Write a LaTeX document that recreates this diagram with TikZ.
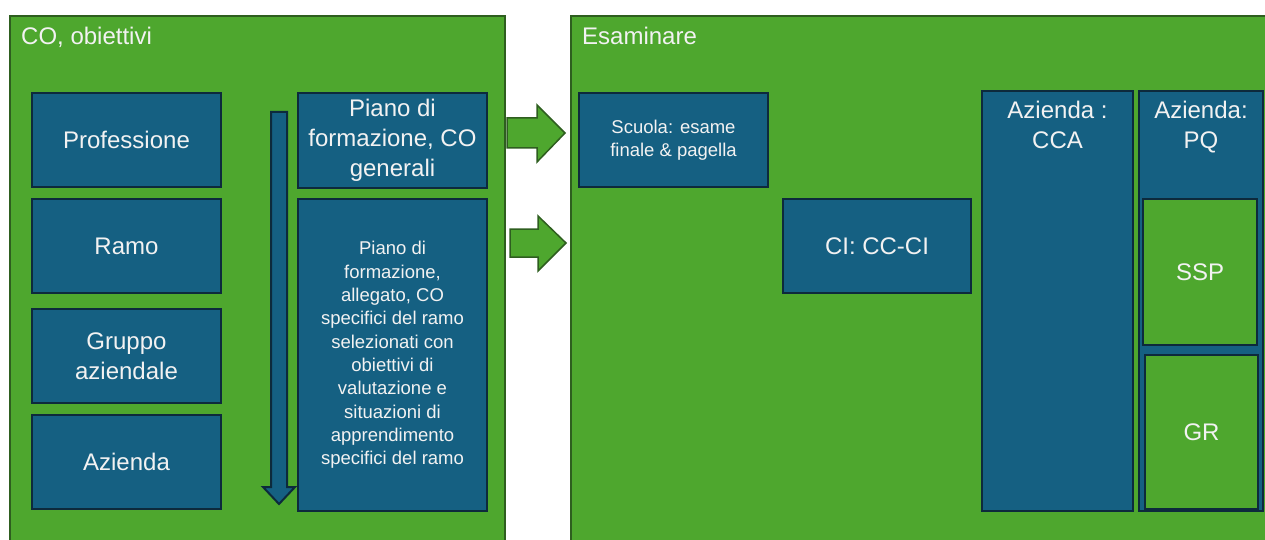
\documentclass[tikz,border=0pt]{standalone}
\usepackage{fontspec}
\setmainfont{Liberation Sans}
\usepackage{tikz}
\definecolor{grn}{HTML}{4EA72E}
\definecolor{grnline}{HTML}{2E5E1F}
\definecolor{blu}{HTML}{156082}
\definecolor{bluline}{HTML}{0D2A3C}
\definecolor{txt}{HTML}{F2F2F2}
\tikzset{
	bigbox/.style={fill=grn, draw=grnline, line width=1.5pt},
	blubox/.style={rectangle, fill=blu, draw=bluline, line width=2pt, text=txt, align=center, anchor=north west, inner sep=0pt},
	grnbox/.style={rectangle, fill=grn, draw=bluline, line width=2pt, text=txt, align=center, anchor=north west, inner sep=0pt},
	bigtxt/.style={font=\fontsize{24}{30}\selectfont},
	smalltxt/.style={font=\fontsize{18.5}{23.3}\selectfont},
	titletxt/.style={anchor=base west, text=txt, font=\fontsize{24}{28}\selectfont, inner sep=0pt},
	blockarrow/.style={fill=grn, draw=grnline, line width=1.5pt, line join=miter},
}

\begin{document}
\begin{tikzpicture}[x=1pt, y=-1pt]
			%%%%% START %%%%%
			\useasboundingbox[fill=white] (0,0) rectangle (1265,540);
			\clip (0,0) rectangle (1265,540);
			
			\draw[bigbox] (10,16) rectangle (505,560);
			\draw[bigbox] (571,16) rectangle (1275,560);
			\node[titletxt] (cotitle) at (21,45) {CO, obiettivi};
			\node[titletxt] (esatitle) at (582,45) {Esaminare};
			
			% left column
			\node[blubox, bigtxt, minimum width=189, minimum height=94] (prof) at (31,92) {Professione};
			\node[blubox, bigtxt, minimum width=189, minimum height=94] (ramo) at (31,198) {Ramo};
			\node[blubox, bigtxt, minimum width=189, minimum height=94] (gruppo) at (31,308) {Gruppo\\aziendale};
			\node[blubox, bigtxt, minimum width=189, minimum height=94] (azienda) at (31,414) {Azienda};
			
			\draw[fill=blu, draw=bluline, line width=2pt, line join=miter] (271,112) -- (287,112) -- (287,487) -- (295,487) -- (279,504) -- (263,487) -- (271,487) -- cycle;
			
			\node[blubox, bigtxt, minimum width=189, minimum height=95] (pianogen) at (297,92) {Piano di\\formazione, CO\\generali};
			\node[blubox, smalltxt, minimum width=189, minimum height=312] (pianospec) at (297,198) {Piano di\\formazione,\\allegato, CO\\specifici del ramo\\selezionati con\\obiettivi di\\valutazione e\\situazioni di\\apprendimento\\specifici del ramo};
			
			% block arrows
			\draw[blockarrow] (507,118) -- (537,118) -- (537,105) -- (565,133) -- (537,162) -- (537,148) -- (507,148) -- cycle;
			\draw[blockarrow] (510,229) -- (538,229) -- (538,216) -- (566,243) -- (538,271) -- (538,257) -- (510,257) -- cycle;
			
			% right side
			\node[blubox, smalltxt, minimum width=189, minimum height=94] (scuola) at (578,92) {Scuola: esame\\finale \& pagella};
			\node[blubox, bigtxt, minimum width=188, minimum height=94] (ci) at (782,198) {CI: CC-CI};
			
			\node[blubox, minimum width=151, minimum height=420] (cca) at (981,90) {};
			\node[anchor=north, bigtxt, text=txt, align=center, inner sep=0pt] (ccatxt) at ([yshift=-11pt]cca.north) {Azienda :\\CCA};
			
			\node[blubox, minimum width=124, minimum height=420] (pq) at (1138,90) {};
			\node[anchor=north, bigtxt, text=txt, align=center, inner sep=0pt] (pqtxt) at ([yshift=-11pt]pq.north) {Azienda:\\PQ};
			
			\node[grnbox, bigtxt, minimum width=114, minimum height=146] (ssp) at (1142,198) {SSP};
			\node[grnbox, bigtxt, minimum width=113, minimum height=154] (gr) at (1144,354) {GR};
			
			%%%%% END %%%%%
\end{tikzpicture}
\end{document}
